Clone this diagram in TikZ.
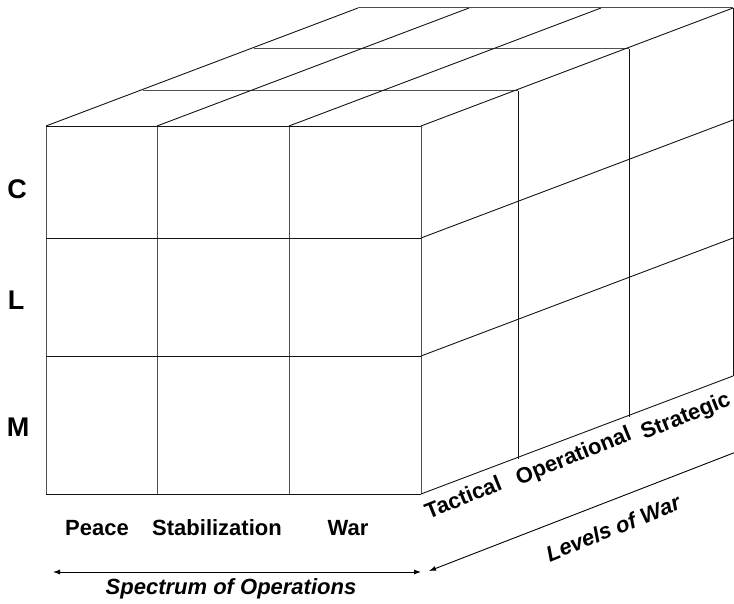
\documentclass[tikz,border=0pt]{standalone}
\usepackage{fontspec}
\setmainfont{Liberation Sans}
\usetikzlibrary{arrows.meta}
\definecolor{edgegray}{RGB}{20,20,20}
\definecolor{gridgray}{RGB}{80,80,80}

\tikzset{
  cubeedge/.style={edgegray, line width=0.9pt},
  cubegrid/.style={gridgray, line width=1pt},
  rowlabel/.style={font=\fontsize{27}{30}\selectfont\bfseries},
  collabel/.style={font=\fontsize{22}{25}\selectfont\bfseries},
  depthlabel/.style={font=\fontsize{22}{25}\selectfont\bfseries, rotate=22},
  axislabel/.style={font=\fontsize{22}{25}\selectfont\bfseries\itshape},
}

\begin{document}
\begin{tikzpicture}[x=1pt, y=-1pt, >={Latex[length=7pt,width=5pt]}]
  \useasboundingbox (0,0) rectangle (734,604);
  % Front face
  \foreach \x in {46,157,289,421}
    \draw[cubegrid] (\x,126) -- (\x,494);
  \foreach \y in {126,238,356,494}
    \draw[cubeedge] (46,\y) -- (421,\y);
  % Top face
  \foreach \dx/\dy in {97/-35,208/-77,312/-118}
    \draw[cubegrid] (46+\dx,126+\dy) -- (421+\dx,126+\dy);
  \foreach \x in {46,157,289,421}
    \draw[cubeedge] (\x,126) -- ++(312,-118);
  % Right face
  \foreach \dx/\dy in {97/-35,208/-77,312/-118}
    \draw[cubeedge] (421+\dx,126+\dy) -- (421+\dx,494+\dy);
  \foreach \y in {238,356,494}
    \draw[cubeedge] (421,\y) -- ++(312,-118);
  % Row labels
  \node[rowlabel] (c) at (17,189) {C};
  \node[rowlabel] (l) at (16,300) {L};
  \node[rowlabel] (m) at (18,427) {M};
  % Spectrum of operations
  \node[collabel] (peace) at (97,528) {Peace};
  \node[collabel] (stab) at (217,528) {Stabilization};
  \node[collabel] (war) at (348,528) {War};
  \coordinate (specL) at (53,572);
  \coordinate (specR) at (421,572);
  \draw[<->, black, line width=0.9pt] (specL) -- (specR);
  \node[axislabel] (spec) at (231,589) {Spectrum of Operations};
  % Levels of war
  \node[depthlabel] (tac) at (463,497) {Tactical};
  \node[depthlabel] (oper) at (574,457) {Operational};
  \node[depthlabel] (strat) at (686,417) {Strategic};
  \coordinate (levR) at (736,452);
  \coordinate (levL) at (429,571);
  \draw[->, black, line width=0.9pt] (levR) -- (levL);
  \node[axislabel, rotate=22] (lev) at (613,528) {Levels of War};
\end{tikzpicture}
\end{document}
